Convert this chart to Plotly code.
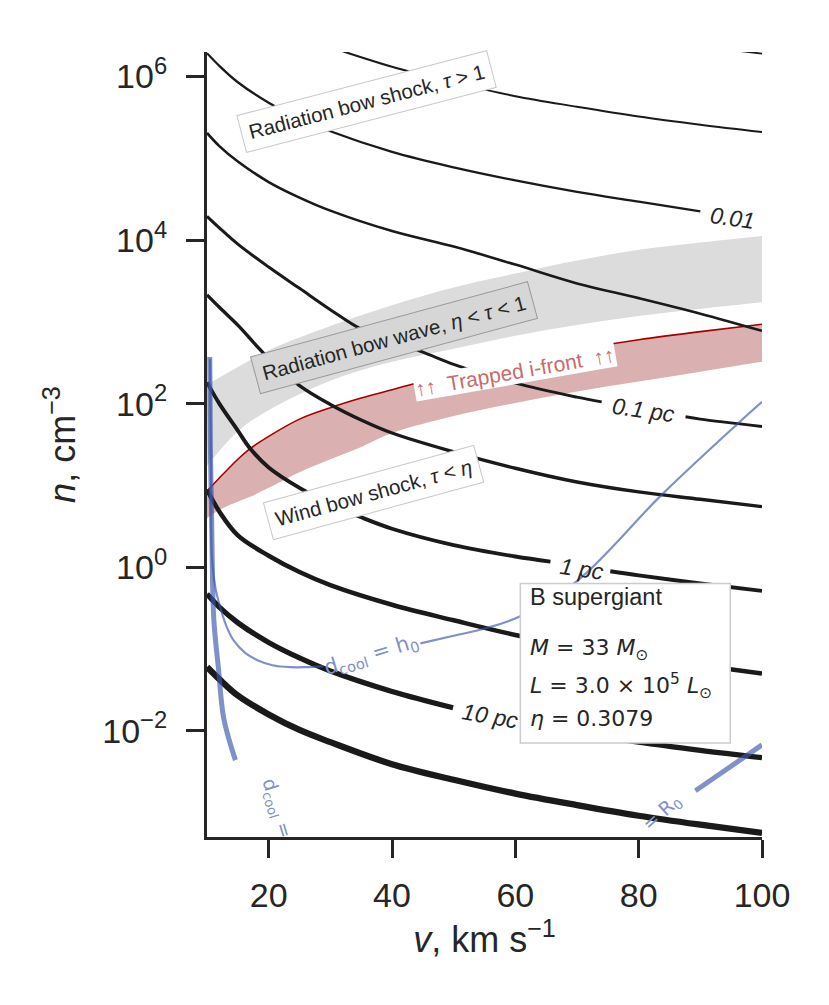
import plotly.graph_objects as go

# ---------------- data (v in km/s, n in cm^-3) ----------------
v_grey = [10, 15, 20, 30, 40, 50, 60, 70, 80, 90, 100]
grey_upper = [170, 280, 450, 890, 1600, 2630, 3890, 5620, 7590, 9330, 11200]
grey_lower = [17.4, 45.7, 83.2, 191, 324, 468, 676, 912, 1175, 1445, 1738]

v_red = [10, 12, 15, 17, 20, 25, 30, 35, 40, 50, 60, 70, 80, 90, 100]
red_upper = [8.5, 12.3, 20.9, 28.2, 39.8, 64.6, 89.1, 117, 148, 234, 331, 457, 603, 759, 933]
red_lower = [3.98, 5.01, 6.31, 7.24, 9.33, 14.5, 20.9, 29.5, 43.7, 70.8, 102, 141, 186, 245, 324]

# R0 contours (black); None marks the gap left for an inline label
v_r0_0p001 = [96.5, 100]
n_r0_0p001 = [2.04e6, 1.91e6]
v_r0_0p003 = [32, 40, 50, 60, 70, 80, 90, 100]
n_r0_0p003 = [2.04e6, 1.32e6, 8.51e5, 5.75e5, 4.27e5, 3.24e5, 2.57e5, 2.09e5]
v_r0_0p01 = [10, 12, 15, 20, 25, 30, 40, 50, 60, 70, 80, 90]
n_r0_0p01 = [1.93e6, 1.35e6, 8.51e5, 4.79e5, 3.09e5, 2.14e5, 1.20e5, 7.76e4, 5.37e4, 3.89e4, 2.95e4, 2.24e4]
v_r0_0p03 = [10, 12, 15, 20, 25, 30, 40, 50, 60, 70, 80, 90, 100]
n_r0_0p03 = [2.04e5, 1.41e5, 9.12e4, 5.13e4, 3.31e4, 2.29e4, 1.29e4, 8.32e3, 5.01e3, 2.95e3, 1.95e3, 1.26e3, 776]
v_r0_0p1 = [10, 12, 15, 20, 25, 30, 35, 40, 45, 50, 60, 70, 74, None, 87.6, 90, 100]
n_r0_0p1 = [1.95e4, 1.41e4, 8.91e3, 4.68e3, 2.57e3, 1.41e3, 813, 575, 427, 302, 178, 120, 105, None, 69.2, 64.6, 52.5]
v_r0_0p3 = [10, 12, 15, 18, 20, 25, 30, 35, 40, 50, 60, 70, 80, 90, 100]
n_r0_0p3 = [2140, 1510, 912, 513, 355, 166, 97.7, 63.1, 43.7, 25.7, 16.2, 11.0, 8.32, 6.76, 5.50]
v_r0_1 = [10, 12, 15, 17, 20, 25, 30, 35, 40, 50, 60, 65.7, None, 75.4, 80, 90, 100]
n_r0_1 = [182, 100, 46.8, 28.2, 16.6, 9.33, 5.89, 4.07, 2.95, 1.86, 1.35, 1.17, None, 0.891, 0.794, 0.631, 0.513]
v_r0_3 = [10, 12, 15, 20, 25, 30, 40, 50, 60, 70, 80, 90, 100]
n_r0_3 = [8.91, 4.79, 2.45, 1.38, 0.871, 0.603, 0.347, 0.224, 0.148, 0.105, 0.0794, 0.0631, 0.0501]
v_r0_10 = [10, 12, 15, 20, 25, 30, 40, 49.9, None, 61, 70, 80, 90, 100]
n_r0_10 = [0.468, 0.324, 0.209, 0.120, 0.0776, 0.0537, 0.0302, 0.0191, None, 0.0126, 0.00955, 0.00724, 0.00575, 0.00468]
v_r0_30 = [10, 12, 15, 20, 25, 30, 40, 50, 60, 70, 80, 90, 100]
n_r0_30 = [0.0603, 0.0427, 0.0269, 0.0158, 0.0102, 0.00724, 0.00389, 0.00251, 0.00170, 0.00123, 0.000912, 0.000708, 0.000562]

r0_curves = [
    (v_r0_0p001, n_r0_0p001, 1.8),
    (v_r0_0p003, n_r0_0p003, 2.0),
    (v_r0_0p01, n_r0_0p01, 2.3),
    (v_r0_0p03, n_r0_0p03, 2.6),
    (v_r0_0p1, n_r0_0p1, 3.0),
    (v_r0_0p3, n_r0_0p3, 3.4),
    (v_r0_1, n_r0_1, 3.9),
    (v_r0_3, n_r0_3, 4.5),
    (v_r0_10, n_r0_10, 5.3),
    (v_r0_30, n_r0_30, 6.3),
]

# cooling-length lines (blue)
v_cool_h0 = [10.49, 10.65, 10.81, 11.38, 12.19, 13.16, 14.29, 16.24, 18.18, 20.62, 23.53, 25.96, 28.88,
             None, 44.6, 50, 55.1, 60.8, 70.0, 83.8, 96.0, 100]
n_cool_h0 = [351, 15.8, 1.28, 0.550, 0.314, 0.189, 0.128, 0.0887, 0.0728, 0.0632, 0.0598, 0.0598, 0.0615,
             None, 0.117, 0.145, 0.178, 0.251, 0.676, 7.76, 56.2, 105]
v_cool_left = [10.45, 10.55, 10.75, 11.1, 11.86, 12.72, 14.6]
n_cool_left = [372, 31.6, 3.98, 0.234, 0.0575, 0.0141, 0.00437]
v_cool_r0 = [89.2, 100]
n_cool_r0 = [0.00184, 0.00670]

x_ticks = [20, 40, 60, 80, 100]
y_ticks = [1e-2, 1, 1e2, 1e4, 1e6]
y_ticktext = ["10<sup>−2</sup>", "10<sup>0</sup>", "10<sup>2</sup>", "10<sup>4</sup>", "10<sup>6</sup>"]

# ---------------- figure ----------------
FONT = "Liberation Sans"
MATH = "DejaVu Sans"
INK = "#262626"
BLUE = "rgba(60,85,170,0.65)"
BLUE_TXT = "rgb(128,144,200)"

fig = go.Figure()

fig.add_trace(go.Scatter(x=v_grey, y=grey_lower, mode="lines", line=dict(width=0, shape="spline"),
                         hoverinfo="skip", showlegend=False))
fig.add_trace(go.Scatter(x=v_grey, y=grey_upper, mode="lines", line=dict(width=0, shape="spline"),
                         fill="tonexty", fillcolor="#dcdcdc", hoverinfo="skip", showlegend=False))

fig.add_trace(go.Scatter(x=v_red, y=red_lower, mode="lines", line=dict(width=0, shape="spline"),
                         hoverinfo="skip", showlegend=False))
fig.add_trace(go.Scatter(x=v_red, y=red_upper, mode="lines",
                         line=dict(width=1.6, color="#a30000", shape="spline"),
                         fill="tonexty", fillcolor="#dbb0b0", hoverinfo="skip", showlegend=False))

for vv, nn, w in r0_curves:
    fig.add_trace(go.Scatter(x=vv, y=nn, mode="lines", connectgaps=False,
                             line=dict(width=w, color="#1a1a1a", shape="spline"),
                             hoverinfo="skip", showlegend=False))

fig.add_trace(go.Scatter(x=v_cool_h0, y=n_cool_h0, mode="lines", connectgaps=False,
                         line=dict(width=2.2, color=BLUE, shape="spline"),
                         hoverinfo="skip", showlegend=False))
fig.add_trace(go.Scatter(x=v_cool_left, y=n_cool_left, mode="lines",
                         line=dict(width=5, color=BLUE, shape="spline"),
                         hoverinfo="skip", showlegend=False))
fig.add_trace(go.Scatter(x=v_cool_r0, y=n_cool_r0, mode="lines",
                         line=dict(width=5, color=BLUE),
                         hoverinfo="skip", showlegend=False))

# info box frame
fig.add_shape(type="rect", xref="x", yref="paper", x0=60.81, x1=94.85,
              y0=0.1198, y1=0.3230, fillcolor="white",
              line=dict(color="#cccccc", width=1.5), layer="above")

ann = []


def box(text, x, y, angle, bg, border, size=20.5, color=INK, pad=7):
    ann.append(dict(text=text, x=x, y=y, xref="x", yref="y", showarrow=False, textangle=angle,
                    font=dict(family=FONT, size=size, color=color), bgcolor=bg,
                    bordercolor=border if border else "rgba(0,0,0,0)",
                    borderwidth=1 if border else 0, borderpad=pad))


box("Radiation bow shock, <i>τ</i> > 1", 35.85, 5.698, -14.6, "white", "#c8c8c8")
box("Radiation bow wave, <i>η</i> < <i>τ</i> < 1", 40.39, 2.807, -15.2, "#d6d6d6", "#999999")
box("↑↑  Trapped i-front  ↑↑", 60.0, 2.387, -10, "white", None, size=21, color="#c96b6b", pad=1)
box("Wind bow shock, <i>τ</i> < <i>η</i>", 36.99, 0.917, -15.3, "white", "#c8c8c8")


def lab(text, x, y, angle, size=23, color=INK, family=FONT):
    ann.append(dict(text=text, x=x, y=y, xref="x", yref="y", showarrow=False, textangle=angle,
                    font=dict(family=family, size=size, color=color)))


lab("<i>0.01</i>", 95.2, 4.265, 8)
lab("<i>0.1 pc</i>", 80.75, 1.923, 8)
lab("<i>1 pc</i>", 70.86, -0.018, 8)
lab("<i>10 pc</i>", 55.95, -1.82, 10)
lab("d<sub>cool</sub> = h<sub>0</sub>", 36.7, -1.077, -17, size=21, color=BLUE_TXT, family=MATH)
lab("= R<sub>0</sub>", 83.85, -3.0, -42, size=19, color=BLUE_TXT, family=MATH)
lab("d<sub>cool</sub> =", 21.27, -2.95, 73, size=19, color=BLUE_TXT, family=MATH)

info_lines = [
    ("B supergiant", -0.370, FONT, 23.5),
    ("<i>M</i> = 33 <i>M</i><sub>⊙</sub>", -1.004, MATH, 22),
    ("<i>L</i> = 3.0 × 10<sup>5</sup> <i>L</i><sub>⊙</sub>", -1.455, MATH, 22),
    ("<i>η</i> = 0.3079", -1.845, MATH, 22),
]
for t, yy, fam, sz in info_lines:
    ann.append(dict(text=t, x=62.11, y=yy, xref="x", yref="y", xanchor="left", showarrow=False,
                    font=dict(family=fam, size=sz, color=INK)))

# the page body adds an 8 px offset, so the figure is 8 px smaller than the window
fig.update_layout(
    width=821, height=997,
    margin=dict(l=199, r=67, t=44, b=168),
    paper_bgcolor="white", plot_bgcolor="white",
    font=dict(family=FONT, color=INK, size=16),
    annotations=ann,
    showlegend=False,
)
fig.update_xaxes(range=[10, 100], showgrid=False, zeroline=False, showline=True, linewidth=3,
                 linecolor=INK, ticks="outside", ticklen=18, tickwidth=3, tickcolor=INK,
                 tickvals=x_ticks, tickfont=dict(size=34, family=FONT, color=INK),
                 ticklabelstandoff=8,
                 title=dict(text="<i>v</i>, km s<sup>−1</sup>", font=dict(size=36, family=FONT, color=INK),
                            standoff=12))
fig.update_yaxes(type="log", range=[-3.3, 6.3], showgrid=False, zeroline=False, showline=True,
                 linewidth=3, linecolor=INK, ticks="outside", ticklen=18, tickwidth=3, tickcolor=INK,
                 tickvals=y_ticks, ticktext=y_ticktext, tickfont=dict(size=34, family=FONT, color=INK),
                 ticklabelstandoff=12,
                 title=dict(text="<i>n</i>, cm<sup>−3</sup>", font=dict(size=36, family=FONT, color=INK),
                            standoff=16))

fig.write_html("out.html")
